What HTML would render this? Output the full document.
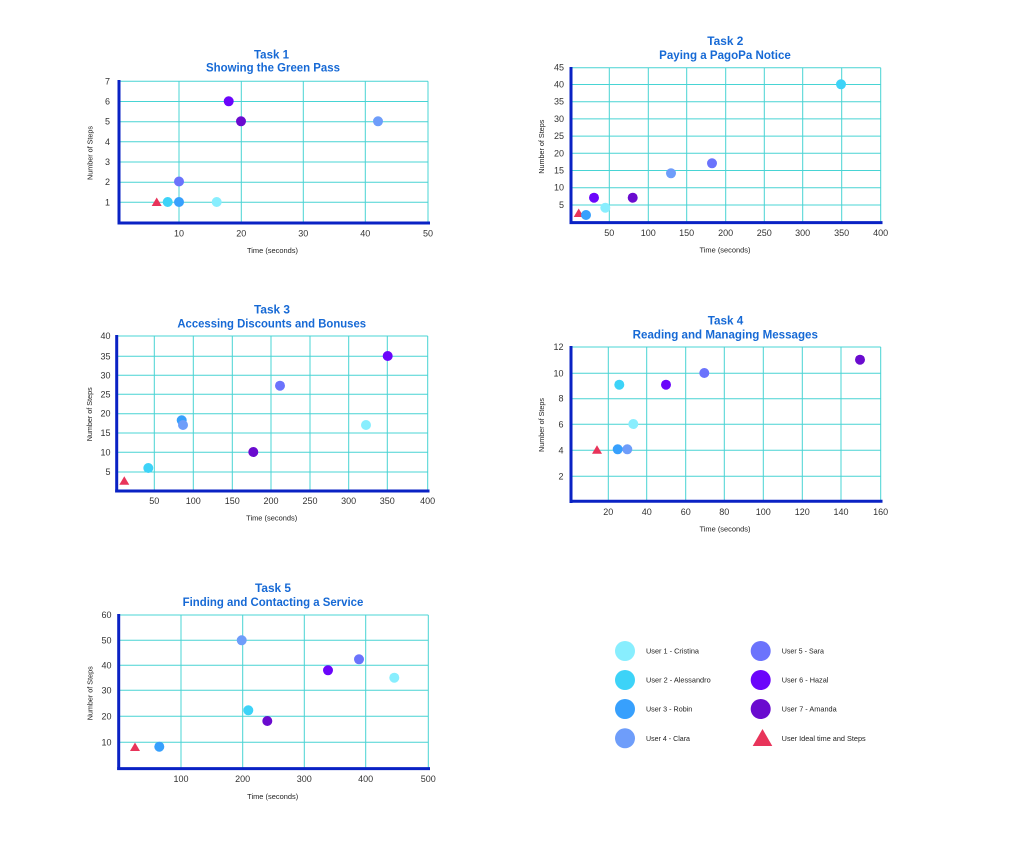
<!DOCTYPE html>
<html><head><meta charset="utf-8"><style>
html,body{margin:0;padding:0;background:#fff;}
svg{display:block;}
text{font-family:"Liberation Sans",sans-serif;}
.t{font-weight:bold;font-size:12px;fill:#1669d5;text-anchor:middle;}
.yl{font-size:9px;fill:#333;text-anchor:end;}
.xl{font-size:9px;fill:#333;text-anchor:middle;}
.al{font-size:7px;fill:#222;text-anchor:middle;}
.lg{font-size:7.3px;fill:#222;}
.g line{stroke:#48d4d4;stroke-width:1;}
.ax{stroke:#0a22c4;stroke-width:3;}
</style></head><body>
<svg width="1018" height="859" viewBox="0 0 1018 859" xmlns="http://www.w3.org/2000/svg">
<rect width="1018" height="859" fill="#fff"/>

<!-- ===== Task 1 ===== -->
<text class="t" x="271.5" y="58.5" textLength="35" lengthAdjust="spacingAndGlyphs">Task 1</text>
<text class="t" x="273" y="71.5" textLength="134" lengthAdjust="spacingAndGlyphs">Showing the Green Pass</text>
<g class="g">
<line x1="179" y1="81.3" x2="179" y2="222.5"/><line x1="241.3" y1="81.3" x2="241.3" y2="222.5"/>
<line x1="303.3" y1="81.3" x2="303.3" y2="222.5"/><line x1="365.3" y1="81.3" x2="365.3" y2="222.5"/>
<line x1="428" y1="81.3" x2="428" y2="222.5"/>
<line x1="119" y1="81.3" x2="428" y2="81.3"/><line x1="119" y1="101.5" x2="428" y2="101.5"/>
<line x1="119" y1="121.7" x2="428" y2="121.7"/><line x1="119" y1="141.8" x2="428" y2="141.8"/>
<line x1="119" y1="162" x2="428" y2="162"/><line x1="119" y1="182.2" x2="428" y2="182.2"/>
<line x1="119" y1="202.3" x2="428" y2="202.3"/>
</g>
<line class="ax" x1="119" y1="80" x2="119" y2="224.5"/>
<line class="ax" x1="117.5" y1="223" x2="430" y2="223"/>
<text class="yl" x="110" y="84.3">7</text><text class="yl" x="110" y="104.5">6</text>
<text class="yl" x="110" y="124.7">5</text><text class="yl" x="110" y="144.8">4</text>
<text class="yl" x="110" y="165">3</text><text class="yl" x="110" y="185.2">2</text>
<text class="yl" x="110" y="205.3">1</text>
<text class="xl" x="179" y="236.5">10</text><text class="xl" x="241.3" y="236.5">20</text>
<text class="xl" x="303.3" y="236.5">30</text><text class="xl" x="365.3" y="236.5">40</text>
<text class="xl" x="428" y="236.5">50</text>
<text class="al" x="272.5" y="253" textLength="51" lengthAdjust="spacingAndGlyphs">Time (seconds)</text>
<text class="al" transform="translate(92.5,153) rotate(-90)" textLength="54" lengthAdjust="spacingAndGlyphs">Number of Steps</text>
<circle cx="228.7" cy="101.3" r="5" fill="#6b05fb"/>
<circle cx="241" cy="121.3" r="5" fill="#6a0bcf"/>
<circle cx="378" cy="121.3" r="5" fill="#6e9dfa"/>
<circle cx="179" cy="181.5" r="5" fill="#6b73fc"/>
<circle cx="179" cy="202" r="5" fill="#37a0fd"/>
<circle cx="167.7" cy="202" r="5" fill="#3dd3f8"/>
<circle cx="216.7" cy="202" r="5" fill="#88eefe"/>
<polygon points="156.7,197.5 161.7,206 151.7,206" fill="#e8345a"/>

<!-- ===== Task 2 ===== -->
<text class="t" x="725.3" y="45" textLength="36" lengthAdjust="spacingAndGlyphs">Task 2</text>
<text class="t" x="725" y="59" textLength="131.7" lengthAdjust="spacingAndGlyphs">Paying a PagoPa Notice</text>
<g class="g">
<line x1="609.3" y1="67.7" x2="609.3" y2="222.3"/><line x1="648.3" y1="67.7" x2="648.3" y2="222.3"/>
<line x1="686.7" y1="67.7" x2="686.7" y2="222.3"/><line x1="725.7" y1="67.7" x2="725.7" y2="222.3"/>
<line x1="764.3" y1="67.7" x2="764.3" y2="222.3"/><line x1="802.7" y1="67.7" x2="802.7" y2="222.3"/>
<line x1="841.7" y1="67.7" x2="841.7" y2="222.3"/><line x1="880.7" y1="67.7" x2="880.7" y2="222.3"/>
<line x1="571" y1="67.7" x2="880.7" y2="67.7"/><line x1="571" y1="84.5" x2="880.7" y2="84.5"/>
<line x1="571" y1="101.7" x2="880.7" y2="101.7"/><line x1="571" y1="118.9" x2="880.7" y2="118.9"/>
<line x1="571" y1="136.1" x2="880.7" y2="136.1"/><line x1="571" y1="153.3" x2="880.7" y2="153.3"/>
<line x1="571" y1="170.5" x2="880.7" y2="170.5"/><line x1="571" y1="187.7" x2="880.7" y2="187.7"/>
<line x1="571" y1="205" x2="880.7" y2="205"/>
</g>
<line class="ax" x1="571" y1="67" x2="571" y2="224"/>
<line class="ax" x1="569.5" y1="222.6" x2="882.5" y2="222.6"/>
<text class="yl" x="564" y="70.7">45</text><text class="yl" x="564" y="87.5">40</text>
<text class="yl" x="564" y="104.7">35</text><text class="yl" x="564" y="121.9">30</text>
<text class="yl" x="564" y="139.1">25</text><text class="yl" x="564" y="156.3">20</text>
<text class="yl" x="564" y="173.5">15</text><text class="yl" x="564" y="190.7">10</text>
<text class="yl" x="564" y="208">5</text>
<text class="xl" x="609.3" y="236">50</text><text class="xl" x="648.3" y="236">100</text>
<text class="xl" x="686.7" y="236">150</text><text class="xl" x="725.7" y="236">200</text>
<text class="xl" x="764.3" y="236">250</text><text class="xl" x="802.7" y="236">300</text>
<text class="xl" x="841.7" y="236">350</text><text class="xl" x="880.7" y="236">400</text>
<text class="al" x="725" y="252.5" textLength="51" lengthAdjust="spacingAndGlyphs">Time (seconds)</text>
<text class="al" transform="translate(544.2,146.7) rotate(-90)" textLength="54" lengthAdjust="spacingAndGlyphs">Number of Steps</text>
<circle cx="841" cy="84.3" r="5" fill="#3dd3f8"/>
<circle cx="712" cy="163.3" r="5" fill="#6b73fc"/>
<circle cx="671" cy="173.3" r="5" fill="#6e9dfa"/>
<circle cx="632.7" cy="197.7" r="5" fill="#6a0bcf"/>
<circle cx="594" cy="197.7" r="5" fill="#6b05fb"/>
<circle cx="605.3" cy="207.7" r="5" fill="#88eefe"/>
<polygon points="578.7,208.5 583.7,217 573.7,217" fill="#e8345a"/>
<circle cx="586" cy="215" r="5" fill="#37a0fd"/>

<!-- ===== Task 3 ===== -->
<text class="t" x="272" y="313.5" textLength="36" lengthAdjust="spacingAndGlyphs">Task 3</text>
<text class="t" x="271.7" y="327.5" textLength="188.7" lengthAdjust="spacingAndGlyphs">Accessing Discounts and Bonuses</text>
<g class="g">
<line x1="154.3" y1="336" x2="154.3" y2="490.7"/><line x1="193.3" y1="336" x2="193.3" y2="490.7"/>
<line x1="232.3" y1="336" x2="232.3" y2="490.7"/><line x1="271" y1="336" x2="271" y2="490.7"/>
<line x1="310" y1="336" x2="310" y2="490.7"/><line x1="348.7" y1="336" x2="348.7" y2="490.7"/>
<line x1="387.3" y1="336" x2="387.3" y2="490.7"/><line x1="427.7" y1="336" x2="427.7" y2="490.7"/>
<line x1="116.7" y1="336" x2="427.7" y2="336"/><line x1="116.7" y1="356.3" x2="427.7" y2="356.3"/>
<line x1="116.7" y1="375.3" x2="427.7" y2="375.3"/><line x1="116.7" y1="394.3" x2="427.7" y2="394.3"/>
<line x1="116.7" y1="413.7" x2="427.7" y2="413.7"/><line x1="116.7" y1="433" x2="427.7" y2="433"/>
<line x1="116.7" y1="452.3" x2="427.7" y2="452.3"/><line x1="116.7" y1="472" x2="427.7" y2="472"/>
</g>
<line class="ax" x1="116.7" y1="335" x2="116.7" y2="492.5"/>
<line class="ax" x1="115.2" y1="491" x2="429.5" y2="491"/>
<text class="yl" x="110.5" y="339">40</text><text class="yl" x="110.5" y="359.3">35</text>
<text class="yl" x="110.5" y="378.3">30</text><text class="yl" x="110.5" y="397.3">25</text>
<text class="yl" x="110.5" y="416.7">20</text><text class="yl" x="110.5" y="436">15</text>
<text class="yl" x="110.5" y="455.3">10</text><text class="yl" x="110.5" y="475">5</text>
<text class="xl" x="154.3" y="504">50</text><text class="xl" x="193.3" y="504">100</text>
<text class="xl" x="232.3" y="504">150</text><text class="xl" x="271" y="504">200</text>
<text class="xl" x="310" y="504">250</text><text class="xl" x="348.7" y="504">300</text>
<text class="xl" x="387.3" y="504">350</text><text class="xl" x="427.7" y="504">400</text>
<text class="al" x="271.7" y="520.3" textLength="51" lengthAdjust="spacingAndGlyphs">Time (seconds)</text>
<text class="al" transform="translate(91.8,414.3) rotate(-90)" textLength="54" lengthAdjust="spacingAndGlyphs">Number of Steps</text>
<circle cx="387.7" cy="356" r="5" fill="#6b05fb"/>
<circle cx="280" cy="385.7" r="5" fill="#6b73fc"/>
<circle cx="366" cy="425" r="5" fill="#88eefe"/>
<circle cx="181.7" cy="420.3" r="5" fill="#37a0fd"/>
<circle cx="183" cy="425" r="5" fill="#6e9dfa"/>
<circle cx="253.3" cy="452" r="5" fill="#6a0bcf"/>
<circle cx="148.3" cy="468" r="5" fill="#3dd3f8"/>
<polygon points="124.3,476.3 129.3,484.8 119.3,484.8" fill="#e8345a"/>

<!-- ===== Task 4 ===== -->
<text class="t" x="725.5" y="324.5" textLength="35.6" lengthAdjust="spacingAndGlyphs">Task 4</text>
<text class="t" x="725.3" y="338.7" textLength="185.3" lengthAdjust="spacingAndGlyphs">Reading and Managing Messages</text>
<g class="g">
<line x1="608.3" y1="347" x2="608.3" y2="501"/><line x1="646.7" y1="347" x2="646.7" y2="501"/>
<line x1="685.7" y1="347" x2="685.7" y2="501"/><line x1="724.3" y1="347" x2="724.3" y2="501"/>
<line x1="763.3" y1="347" x2="763.3" y2="501"/><line x1="802.3" y1="347" x2="802.3" y2="501"/>
<line x1="841" y1="347" x2="841" y2="501"/><line x1="880.7" y1="347" x2="880.7" y2="501"/>
<line x1="571" y1="347" x2="880.7" y2="347"/><line x1="571" y1="373.3" x2="880.7" y2="373.3"/>
<line x1="571" y1="398.7" x2="880.7" y2="398.7"/><line x1="571" y1="424.3" x2="880.7" y2="424.3"/>
<line x1="571" y1="450.3" x2="880.7" y2="450.3"/><line x1="571" y1="476.3" x2="880.7" y2="476.3"/>
</g>
<line class="ax" x1="571" y1="346" x2="571" y2="503"/>
<line class="ax" x1="569.5" y1="501.3" x2="882.5" y2="501.3"/>
<text class="yl" x="563.5" y="350">12</text><text class="yl" x="563.5" y="376.3">10</text>
<text class="yl" x="563.5" y="401.7">8</text><text class="yl" x="563.5" y="427.3">6</text>
<text class="yl" x="563.5" y="453.3">4</text><text class="yl" x="563.5" y="479.3">2</text>
<text class="xl" x="608.3" y="515">20</text><text class="xl" x="646.7" y="515">40</text>
<text class="xl" x="685.7" y="515">60</text><text class="xl" x="724.3" y="515">80</text>
<text class="xl" x="763.3" y="515">100</text><text class="xl" x="802.3" y="515">120</text>
<text class="xl" x="841" y="515">140</text><text class="xl" x="880.7" y="515">160</text>
<text class="al" x="725" y="531.5" textLength="51" lengthAdjust="spacingAndGlyphs">Time (seconds)</text>
<text class="al" transform="translate(544.2,425) rotate(-90)" textLength="54" lengthAdjust="spacingAndGlyphs">Number of Steps</text>
<circle cx="860" cy="359.7" r="5" fill="#6a0bcf"/>
<circle cx="704.3" cy="373" r="5" fill="#6b73fc"/>
<circle cx="666" cy="384.7" r="5" fill="#6b05fb"/>
<circle cx="619.3" cy="384.7" r="5" fill="#3dd3f8"/>
<circle cx="633.3" cy="424" r="5" fill="#88eefe"/>
<circle cx="617.7" cy="449.3" r="5" fill="#37a0fd"/>
<circle cx="627.3" cy="449.3" r="5" fill="#6e9dfa"/>
<polygon points="597,445.3 602,453.8 592,453.8" fill="#e8345a"/>

<!-- ===== Task 5 ===== -->
<text class="t" x="273" y="592" textLength="36" lengthAdjust="spacingAndGlyphs">Task 5</text>
<text class="t" x="273" y="606" textLength="180.7" lengthAdjust="spacingAndGlyphs">Finding and Contacting a Service</text>
<g class="g">
<line x1="181" y1="615" x2="181" y2="768.3"/><line x1="242.7" y1="615" x2="242.7" y2="768.3"/>
<line x1="304.3" y1="615" x2="304.3" y2="768.3"/><line x1="365.7" y1="615" x2="365.7" y2="768.3"/>
<line x1="428.3" y1="615" x2="428.3" y2="768.3"/>
<line x1="118.7" y1="615" x2="428.3" y2="615"/><line x1="118.7" y1="640.3" x2="428.3" y2="640.3"/>
<line x1="118.7" y1="665.3" x2="428.3" y2="665.3"/><line x1="118.7" y1="690.3" x2="428.3" y2="690.3"/>
<line x1="118.7" y1="716.3" x2="428.3" y2="716.3"/><line x1="118.7" y1="742.3" x2="428.3" y2="742.3"/>
</g>
<line class="ax" x1="118.7" y1="614" x2="118.7" y2="770"/>
<line class="ax" x1="117.2" y1="768.6" x2="430" y2="768.6"/>
<text class="yl" x="111.5" y="618">60</text><text class="yl" x="111.5" y="643.3">50</text>
<text class="yl" x="111.5" y="668.3">40</text><text class="yl" x="111.5" y="693.3">30</text>
<text class="yl" x="111.5" y="719.3">20</text><text class="yl" x="111.5" y="745.3">10</text>
<text class="xl" x="181" y="782">100</text><text class="xl" x="242.7" y="782">200</text>
<text class="xl" x="304.3" y="782">300</text><text class="xl" x="365.7" y="782">400</text>
<text class="xl" x="428.3" y="782">500</text>
<text class="al" x="272.7" y="799" textLength="51" lengthAdjust="spacingAndGlyphs">Time (seconds)</text>
<text class="al" transform="translate(92.5,693.3) rotate(-90)" textLength="54" lengthAdjust="spacingAndGlyphs">Number of Steps</text>
<circle cx="241.7" cy="640.3" r="5" fill="#6e9dfa"/>
<circle cx="359" cy="659.3" r="5" fill="#6b73fc"/>
<circle cx="328" cy="670.3" r="5" fill="#6b05fb"/>
<circle cx="394.3" cy="677.7" r="5" fill="#88eefe"/>
<circle cx="248.3" cy="710.3" r="5" fill="#3dd3f8"/>
<circle cx="267.3" cy="721" r="5" fill="#6a0bcf"/>
<circle cx="159.3" cy="746.7" r="5" fill="#37a0fd"/>
<polygon points="135,742.5 140,751 130,751" fill="#e8345a"/>

<!-- ===== Legend ===== -->
<circle cx="625" cy="651" r="10" fill="#88eefe"/>
<circle cx="625" cy="680" r="10" fill="#3dd3f8"/>
<circle cx="625" cy="709" r="10" fill="#37a0fd"/>
<circle cx="625" cy="738.3" r="10" fill="#6e9dfa"/>
<circle cx="760.7" cy="651" r="10" fill="#6b73fc"/>
<circle cx="760.7" cy="680" r="10" fill="#6b05fb"/>
<circle cx="760.7" cy="709" r="10" fill="#6a0bcf"/>
<polygon points="762.5,729 772.3,746 752.7,746" fill="#e8345a"/>
<text class="lg" x="646" y="653.5" textLength="53" lengthAdjust="spacingAndGlyphs">User 1 - Cristina</text>
<text class="lg" x="646" y="682.5" textLength="64.7" lengthAdjust="spacingAndGlyphs">User 2 - Alessandro</text>
<text class="lg" x="646" y="711.5" textLength="46.3" lengthAdjust="spacingAndGlyphs">User 3 - Robin</text>
<text class="lg" x="646" y="740.8" textLength="44" lengthAdjust="spacingAndGlyphs">User 4 - Clara</text>
<text class="lg" x="781.7" y="653.5" textLength="42.3" lengthAdjust="spacingAndGlyphs">User 5 - Sara</text>
<text class="lg" x="781.7" y="682.5" textLength="46.7" lengthAdjust="spacingAndGlyphs">User 6 - Hazal</text>
<text class="lg" x="781.7" y="711.5" textLength="55" lengthAdjust="spacingAndGlyphs">User 7 - Amanda</text>
<text class="lg" x="781.7" y="741" textLength="84" lengthAdjust="spacingAndGlyphs">User Ideal time and Steps</text>
</svg>
</body></html>
